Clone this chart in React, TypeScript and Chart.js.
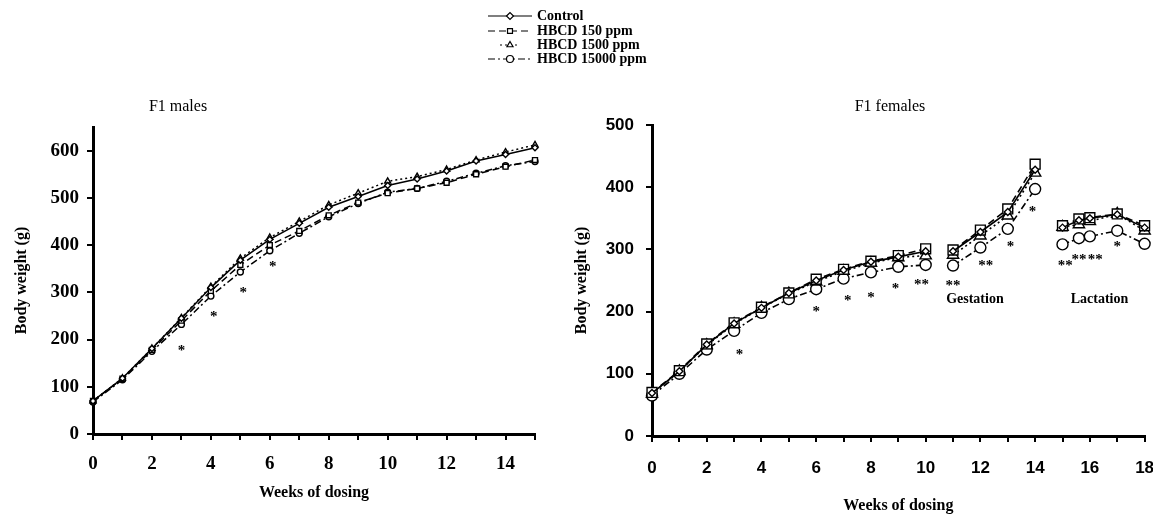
import React, { useEffect, useRef } from 'react';
import { Chart, registerables } from 'chart.js';
import { drawPoint } from 'chart.js/helpers';

Chart.register(...registerables);

// ---------- data ----------
const seriesNames = ['Control', 'HBCD 150 ppm', 'HBCD 1500 ppm', 'HBCD 15000 ppm'];

const maleWeeks = [0, 1, 2, 3, 4, 5, 6, 7, 8, 9, 10, 11, 12, 13, 14, 15];
const maleControl = [70, 118, 181, 245, 310, 368, 412, 446, 480, 503, 526, 540, 557, 578, 592, 606];
const male150 = [70, 117, 178, 240, 303, 358, 400, 430, 463, 490, 510, 520, 532, 550, 566, 580];
const male1500 = [70, 118, 181, 246, 312, 372, 416, 450, 485, 510, 535, 545, 560, 580, 597, 612];
const male15000 = [68, 115, 175, 232, 292, 343, 388, 425, 460, 488, 512, 520, 535, 552, 568, 577];
const maleYTicks = [0, 100, 200, 300, 400, 500, 600];
const maleStarWeeks = [3.0, 4.1, 5.1, 6.1];
const maleStarValues = [184, 256, 307, 362];
const maleStarMarks = ['*', '*', '*', '*'];

const femaleWeeks = [0, 1, 2, 3, 4, 5, 6, 7, 8, 9, 10, 11, 12, 13, 14, 15, 15.6, 16, 17, 18];
const femaleControl = [69, 104, 147, 181, 206, 230, 250, 267, 280, 288, 297, 297, 328, 360, 428, 335, 347, 350, 356, 335];
const female150 = [70, 105, 148, 182, 207, 230, 252, 268, 281, 290, 301, 299, 331, 365, 437, 338, 349, 351, 357, 338];
const female1500 = [68, 104, 146, 180, 206, 229, 248, 265, 278, 287, 290, 291, 322, 354, 423, 336, 340, 345, 357, 330];
const female15000 = [65, 100, 139, 169, 198, 220, 236, 253, 263, 272, 275, 274, 303, 333, 397, 308, 318, 321, 330, 309];
const femaleBreakWeeks = [10, 14];
const femaleYTicks = [0, 100, 200, 300, 400, 500];
const femaleStarWeeks = [3.2, 6.0, 7.15, 8.0, 8.9, 9.85, 11.0, 12.2, 13.1, 13.9, 15.1, 15.6, 16.2, 17.0];
const femaleStarValues = [137, 205, 224, 229, 242, 249, 247, 279, 311, 367, 279, 289, 290, 311];
const femaleStarMarks = ['*', '*', '*', '*', '*', '**', '**', '**', '*', '*', '**', '**', '**', '*'];
const phaseLabels = ['Gestation', 'Lactation'];
const phaseLabelWeeks = [11.8, 16.35];
const phaseLabelValues = [220, 220];

const maleTitle = 'F1 males';
const femaleTitle = 'F1 females';
const yTitle = 'Body weight (g)';
const xTitle = 'Weeks of dosing';

// ---------- styles ----------
const SERIF = '"Liberation Serif", "Times New Roman", serif';
const SANS = '"Liberation Sans", Arial, sans-serif';
const dashes = [[], [7, 4], [2, 3], [7, 3, 2, 3]];
const pointStyles = ['rectRot', 'rect', 'triangle', 'circle'];

function buildDatasets(weeks: number[], series: number[][], radii: number[], lw: number, breaks: number[]) {
  return series.map((vals, i) => ({
    label: seriesNames[i],
    data: weeks.map((w, j) => ({ x: w, y: vals[j] })),
    borderColor: '#000',
    backgroundColor: '#fff',
    borderWidth: lw,
    borderDash: dashes[i],
    pointStyle: pointStyles[i],
    pointRadius: radii[i],
    pointBorderWidth: 1.4,
    pointBorderColor: '#000',
    pointBackgroundColor: '#fff',
    tension: 0,
    clip: false,
    segment: {
      borderColor: (ctx: any) => (breaks.includes(ctx.p0.parsed.x) ? 'rgba(0,0,0,0)' : '#000'),
    },
  }));
}

const annotPlugin = {
  id: 'annot',
  afterDraw(chart: any, _args: any, opts: any) {
    const ctx = chart.ctx;
    const xs = chart.scales.x;
    const ys = chart.scales.y;
    ctx.save();
    ctx.fillStyle = '#000';
    ctx.textAlign = 'center';
    (opts.stars || []).forEach((s: any) => {
      ctx.font = 'bold 15px ' + SERIF;
      ctx.textBaseline = 'alphabetic';
      ctx.fillText(s.text, xs.getPixelForValue(s.x), ys.getPixelForValue(s.y) + 8);
    });
    (opts.labels || []).forEach((l: any) => {
      ctx.font = 'bold 14px ' + SERIF;
      ctx.textBaseline = 'middle';
      ctx.fillText(l.text, xs.getPixelForValue(l.x), ys.getPixelForValue(l.y));
    });
    if (opts.title) {
      ctx.font = '16px ' + SERIF;
      ctx.textBaseline = 'middle';
      ctx.fillText(opts.title.text, opts.title.px, opts.title.py);
    }
    ctx.restore();
  },
};

const legendPlugin = {
  id: 'sideLegend',
  afterDraw(chart: any, _args: any, opts: any) {
    if (!opts || !opts.rows) return;
    const ctx = chart.ctx;
    ctx.save();
    chart.data.datasets.forEach((ds: any, i: number) => {
      const y = opts.rows[i];
      const [x0, x1] = opts.samples[i];
      ctx.strokeStyle = '#000';
      ctx.lineWidth = 1.2;
      ctx.setLineDash(ds.borderDash || []);
      ctx.beginPath();
      ctx.moveTo(x0, y);
      ctx.lineTo(x1, y);
      ctx.stroke();
      ctx.setLineDash([]);
      ctx.fillStyle = '#fff';
      ctx.strokeStyle = '#000';
      ctx.lineWidth = 1.2;
      drawPoint(ctx, { pointStyle: ds.pointStyle, radius: 3.5, rotation: 0, borderWidth: 1.2 } as any, opts.markerX, y);
      ctx.fillStyle = '#000';
      ctx.font = 'bold 14px ' + SERIF;
      ctx.textAlign = 'left';
      ctx.textBaseline = 'middle';
      ctx.fillText(ds.label, opts.textX, y);
    });
    ctx.restore();
  },
};

function axisCommon() {
  return {
    border: { display: true, color: '#000', width: 3 },
    grid: { drawOnChartArea: false, drawTicks: true, tickLength: 6, color: '#000', lineWidth: 2 },
  };
}

export default function App() {
  const leftRef = useRef<HTMLCanvasElement>(null);
  const rightRef = useRef<HTMLCanvasElement>(null);

  useEffect(() => {
    const left = new Chart(leftRef.current as HTMLCanvasElement, {
      type: 'line',
      data: {
        datasets: buildDatasets(maleWeeks, [maleControl, male150, male1500, male15000], [3, 3.5, 3.5, 3], 1.5, []) as any,
      },
      plugins: [annotPlugin, legendPlugin],
      options: {
        animation: false,
        responsive: false,
        devicePixelRatio: 1,
        layout: { padding: { left: 0, right: 618, top: 127, bottom: 0 } },
        plugins: {
          legend: { display: false },
          tooltip: { enabled: false },
          annot: {
            stars: maleStarWeeks.map((w, i) => ({ x: w, y: maleStarValues[i], text: maleStarMarks[i] })),
            title: { text: maleTitle, px: 178, py: 107 },
          },
          sideLegend: { rows: [16, 31, 45, 59], samples: [[488, 532], [488, 532], [500, 520], [488, 532]], markerX: 510, textX: 537 },
        } as any,
        scales: {
          x: {
            type: 'linear',
            min: 0,
            max: 15,
            ...axisCommon(),
            ticks: {
              stepSize: 1,
              padding: 13,
              maxRotation: 0,
              autoSkip: false,
              color: '#000',
              font: { family: SERIF, size: 19, weight: 'bold' },
              callback: (v: any) => (Number(v) % 2 === 0 ? String(v) : ''),
            },
            title: { display: true, text: xTitle, color: '#000', font: { family: SERIF, size: 16, weight: 'bold' }, padding: { top: 0, bottom: 12 } },
            afterFit: (s: any) => { s.height = 80; s.paddingLeft = 0; s.paddingRight = 0; },
          },
          y: {
            type: 'linear',
            min: 0,
            max: 650,
            ...axisCommon(),
            afterBuildTicks: (s: any) => { s.ticks = maleYTicks.map((v) => ({ value: v })); },
            ticks: { padding: 8, color: '#000', font: { family: SERIF, size: 19, weight: 'bold' } },
            title: { display: true, text: yTitle, color: '#000', font: { family: SERIF, size: 16, weight: 'bold' }, padding: { top: 12, bottom: 0 } },
            afterFit: (s: any) => { s.width = 93; s.paddingTop = 0; s.paddingBottom = 0; },
          },
        },
      } as any,
    });

    const right = new Chart(rightRef.current as HTMLCanvasElement, {
      type: 'line',
      data: {
        datasets: buildDatasets(femaleWeeks, [femaleControl, female150, female1500, female15000], [3.5, 7, 6.5, 5.5], 1.6, femaleBreakWeeks) as any,
      },
      plugins: [annotPlugin],
      options: {
        animation: false,
        responsive: false,
        devicePixelRatio: 1,
        layout: { padding: { left: 560, right: 8, top: 125, bottom: 0 } },
        plugins: {
          legend: { display: false },
          tooltip: { enabled: false },
          annot: {
            stars: femaleStarWeeks.map((w, i) => ({ x: w, y: femaleStarValues[i], text: femaleStarMarks[i] })),
            labels: phaseLabels.map((t, i) => ({ x: phaseLabelWeeks[i], y: phaseLabelValues[i], text: t })),
            title: { text: femaleTitle, px: 890, py: 107 },
          },
        } as any,
        scales: {
          x: {
            type: 'linear',
            min: 0,
            max: 18,
            ...axisCommon(),
            ticks: {
              stepSize: 1,
              padding: 16,
              maxRotation: 0,
              autoSkip: false,
              color: '#000',
              font: { family: SANS, size: 17, weight: 'bold' },
              callback: (v: any) => (Number(v) % 2 === 0 ? String(v) : ''),
            },
            title: { display: true, text: xTitle, color: '#000', font: { family: SERIF, size: 16, weight: 'bold', lineHeight: 1 }, padding: { top: 0, bottom: 0 } },
            afterFit: (s: any) => { s.height = 78; s.paddingLeft = 0; s.paddingRight = 0; },
          },
          y: {
            type: 'linear',
            min: 0,
            max: 500,
            ...axisCommon(),
            afterBuildTicks: (s: any) => { s.ticks = femaleYTicks.map((v) => ({ value: v })); },
            ticks: { padding: 12, color: '#000', font: { family: SANS, size: 17, weight: 'bold' } },
            title: { display: true, text: yTitle, color: '#000', font: { family: SERIF, size: 16, weight: 'bold' }, padding: { top: 12, bottom: 0 } },
            afterFit: (s: any) => { s.width = 92; s.paddingTop = 0; s.paddingBottom = 0; },
          },
        },
      } as any,
    });

    return () => {
      left.destroy();
      right.destroy();
    };
  }, []);

  const canvasStyle: React.CSSProperties = { position: 'absolute', left: 0, top: 0, width: 1153, height: 514 };
  return (
    <div style={{ position: 'fixed', left: 0, top: 0, width: 1153, height: 514, background: '#fff' }}>
      <canvas ref={leftRef} width={1153} height={514} style={canvasStyle} />
      <canvas ref={rightRef} width={1153} height={514} style={canvasStyle} />
    </div>
  );
}
